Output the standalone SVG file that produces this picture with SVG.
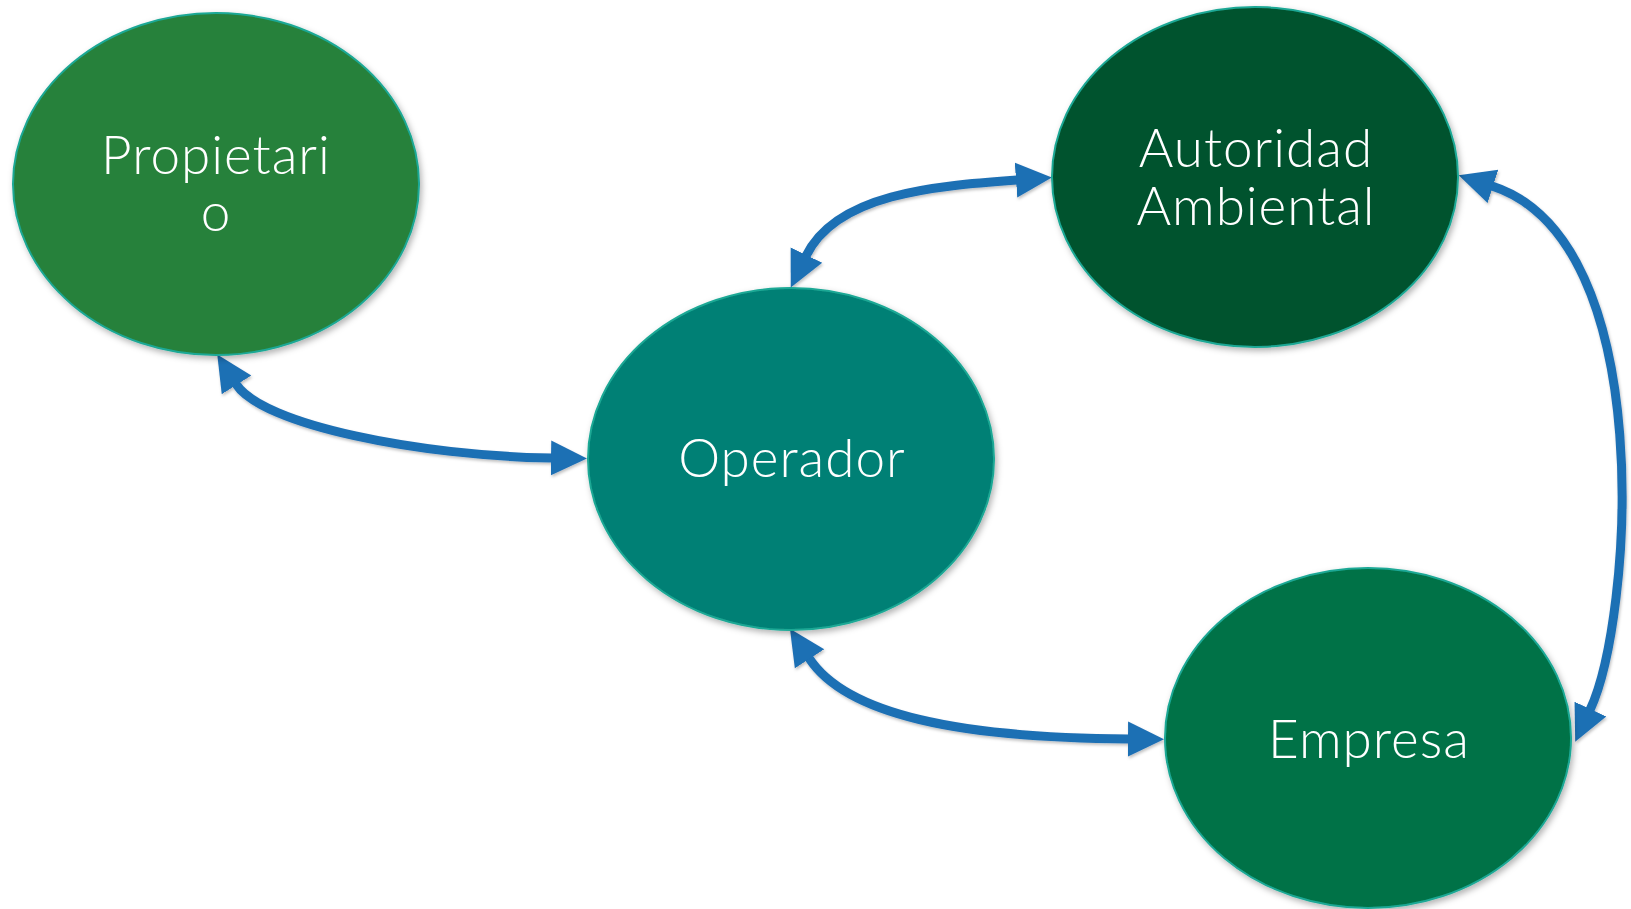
<svg xmlns="http://www.w3.org/2000/svg" width="1631" height="909" viewBox="0 0 1631 909">
<style>
.node{stroke:#1BA895;stroke-width:2;filter:url(#sh)}
.lbl{font-family:Lato,"Liberation Sans",Arial,sans-serif;font-weight:300;font-size:53px;fill:#ffffff;text-anchor:middle;letter-spacing:1px}
.conn{fill:none;stroke:#1F6FB4;stroke-width:9;marker-start:url(#ah);marker-end:url(#ah)}
</style>
<defs>
<filter id="sh" x="-10%" y="-10%" width="125%" height="125%">
<feDropShadow dx="2" dy="3" stdDeviation="3" flood-color="#000" flood-opacity="0.3"/>
</filter>
<filter id="csh" filterUnits="userSpaceOnUse" x="0" y="0" width="1631" height="909">
<feDropShadow dx="1" dy="2" stdDeviation="1.5" flood-color="#000" flood-opacity="0.25"/>
</filter>
<marker id="ah" markerUnits="userSpaceOnUse" viewBox="-1 -19 38 38" refX="0" refY="0" markerWidth="38" markerHeight="38" orient="auto-start-reverse">
<path d="M-1,-17.5 L35,0 L-1,17.5 Z" fill="#1F6FB4"/>
</marker>
</defs>
<rect width="1631" height="909" fill="#ffffff"/>
<g id="connectors" filter="url(#csh)">
<path class="conn" d="M236,384 C262,425 420,456 552,458"/>
<path class="conn" d="M806,256 C836,194 933,186 1017,180"/>
<path class="conn" d="M809,658 C846,715 960,738 1129,739"/>
<path class="conn" d="M1492,186 C1660,240 1632,620 1590,710"/>
</g>
<g id="propietario">
<ellipse class="node" cx="216" cy="184" rx="203" ry="171" fill="#28813A"/>
<text class="lbl" x="216" y="174">Propietari</text>
<text class="lbl" x="216" y="231">o</text>
</g>
<g id="autoridad">
<ellipse class="node" cx="1255" cy="177" rx="203" ry="170" fill="#04532F"/>
<text class="lbl" x="1256" y="167">Autoridad</text>
<text class="lbl" x="1256" y="225">Ambiental</text>
</g>
<g id="operador">
<ellipse class="node" cx="791" cy="459" rx="203" ry="171" fill="#038075"/>
<text class="lbl" x="792" y="477">Operador</text>
</g>
<g id="empresa">
<ellipse class="node" cx="1368" cy="738" rx="203" ry="170" fill="#007246"/>
<text class="lbl" x="1369" y="758">Empresa</text>
</g>
</svg>
